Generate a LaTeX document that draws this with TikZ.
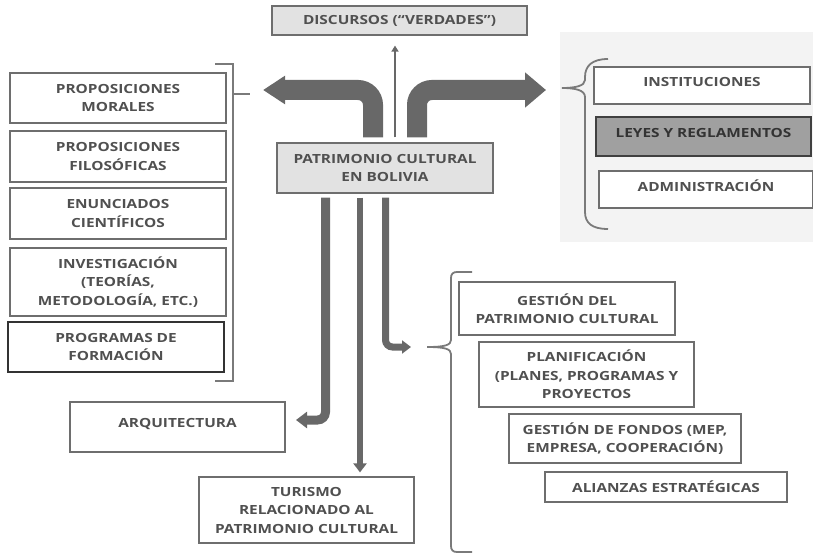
\documentclass[tikz,border=0pt]{standalone}
\usepackage{fontspec}
\setmainfont[FakeStretch=1.22]{Open Sans}
\usetikzlibrary{arrows.meta}
\definecolor{arrowgray}{HTML}{686868}
\definecolor{boxgray}{HTML}{6E6E6E}
\definecolor{txtgray}{HTML}{505050}
\definecolor{lightfill}{HTML}{E2E2E2}
\definecolor{midfill}{HTML}{A0A0A0}
\definecolor{panelfill}{HTML}{F3F3F3}
\definecolor{brgray}{HTML}{7A7A7A}
\tikzset{
  box/.style={draw=boxgray, line width=1.2pt, fill=white, align=center, inner sep=2pt,
    text=txtgray, font=\bfseries\fontsize{12.6}{18.5}\selectfont},
  raised/.style={text depth=8pt},
  bigarrow/.style={draw=arrowgray, line width=20pt, rounded corners=15pt},
  midarrow/.style={draw=arrowgray, line width=#1, rounded corners=8pt},
  bracketline/.style={draw=brgray, line width=1.8pt},
}
\begin{document}
\begin{tikzpicture}[x=1pt,y=-1pt]
\useasboundingbox (0,0) rectangle (813,553);
% right panel
\fill[panelfill] (560,32) rectangle (813,242);

% nodes
\node[box, fill=lightfill, minimum width=255pt, minimum height=29pt] (disc) at (399.5,20.5) {DISCURSOS (“VERDADES”)};
\node[box, fill=lightfill, minimum width=216pt, minimum height=50pt] (patri) at (385,168) {PATRIMONIO CULTURAL\\EN BOLIVIA};

\node[box, minimum width=216pt, minimum height=50pt] (m1) at (118,98) {PROPOSICIONES\\MORALES};
\node[box, minimum width=216pt, minimum height=51pt] (m2) at (118,156.5) {PROPOSICIONES\\FILOSÓFICAS};
\node[box, minimum width=216pt, minimum height=51pt] (m3) at (118,213.5) {ENUNCIADOS\\CIENTÍFICOS};
\node[box, minimum width=216pt, minimum height=68pt] (m4) at (118,282) {INVESTIGACIÓN\\(TEORÍAS,\\METODOLOGÍA, ETC.)};
\node[box, draw=black!80, minimum width=216pt, minimum height=50pt] (m5) at (116,347) {PROGRAMAS DE\\FORMACIÓN};

\node[box, raised, minimum width=216pt, minimum height=37pt] (inst) at (702,85.5) {INSTITUCIONES};
\node[box, raised, fill=midfill, draw=black!75, text=black!80, minimum width=215pt, minimum height=39pt] (leyes) at (703.5,136.5) {LEYES Y REGLAMENTOS};
\node[box, raised, minimum width=214pt, minimum height=37pt] (admin) at (706,189.5) {ADMINISTRACIÓN};

\node[box, minimum width=216pt, minimum height=53pt] (gest) at (567,308.5) {GESTIÓN DEL\\PATRIMONIO CULTURAL};
\node[box, minimum width=215pt, minimum height=65pt] (plan) at (586.5,374.5) {PLANIFICACIÓN\\(PLANES, PROGRAMAS Y\\PROYECTOS};
\node[box, minimum width=232pt, minimum height=49pt] (fond) at (625,438.5) {GESTIÓN DE FONDOS (MEP,\\EMPRESA, COOPERACIÓN)};
\node[box, minimum width=242pt, minimum height=30pt] (alia) at (666,487) {ALIANZAS ESTRATÉGICAS};

\node[box, raised, minimum width=215pt, minimum height=50pt] (arq) at (177.5,427) {ARQUITECTURA};
\node[box, minimum width=215pt, minimum height=66pt] (tur) at (306.5,510) {TURISMO\\RELACIONADO AL\\PATRIMONIO CULTURAL};

% brackets
\coordinate (lbr) at (250,94);
\draw[bracketline] (215,64) -- (233,64) -- (233,381) -- (215,381);
\draw[bracketline] (233,94) -- (lbr);

\coordinate (rbr) at (562,88);
\draw[bracketline] (608,59) .. controls (592,59) and (585,66) .. (585,77) -- (585,80)
  .. controls (585,86) and (575,88) .. (rbr)
  .. controls (575,88) and (585,90) .. (585,97) -- (585,212)
  .. controls (585,223) and (592,229) .. (608,229);

\coordinate (gbr) at (427,347);
\draw[bracketline] (472,272) -- (457,272) .. controls (453,272) and (451,274) .. (451,278) -- (451,340)
  .. controls (451,345) and (445,347) .. (gbr)
  .. controls (445,347) and (451,349) .. (451,354) -- (451,546)
  .. controls (451,550) and (453,552) .. (457,552) -- (472,552);

% big arrows
\coordinate (la0) at ([xshift=-12pt,yshift=5pt]patri.north);
\coordinate (ra0) at ([xshift=32pt,yshift=5pt]patri.north);
\coordinate (ua0) at ([xshift=10pt,yshift=5pt]patri.north);
\coordinate (uatip) at ([yshift=-10pt]disc.south -| ua0);
\coordinate (latip) at (263,90);
\coordinate (ratip) at (546,90);
\draw[bigarrow, -{Triangle[length=22pt,width=27pt]}] (la0) |- (latip);
\draw[bigarrow, -{Triangle[length=21pt,width=34pt]}] (ra0) |- (ratip);
\draw[draw=arrowgray, line width=2.6pt, -{Triangle[length=6pt,width=7pt]}] (ua0) -- (uatip);

% down arrows
\coordinate (da) at ([xshift=-59.5pt,yshift=-4pt]patri.south);
\coordinate (db) at ([xshift=-25pt,yshift=-4pt]patri.south);
\coordinate (dc) at ([xshift=0.5pt,yshift=-4pt]patri.south);
\coordinate (dbtip) at ([yshift=4pt]tur.north -| db);
\coordinate (datip) at (296,420);
\coordinate (dctip) at (411,347);
\draw[midarrow=9pt, -{Triangle[length=11pt,width=16pt]}] (da) |- (datip);
\draw[midarrow=6.5pt, -{Triangle[length=9pt,width=13pt]}] (db) -- (dbtip);
\draw[midarrow=7pt, rounded corners=7pt, -{Triangle[length=9pt,width=13pt]}] (dc) |- (dctip);
\end{tikzpicture}
\end{document}
